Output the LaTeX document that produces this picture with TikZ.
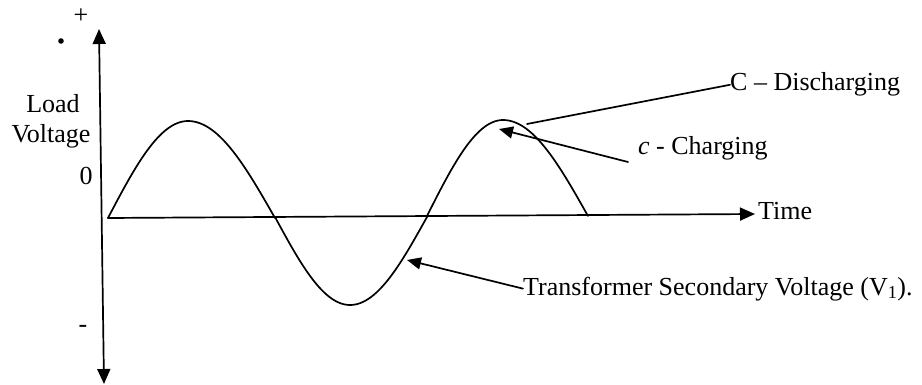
\documentclass[tikz,border=0pt]{standalone}
\usepackage{fontspec}
\setmainfont{Liberation Serif}
\usetikzlibrary{arrows.meta}
\begin{document}
\begin{tikzpicture}[x=1pt,y=-1pt,
  lbl/.style={inner sep=0pt,anchor=base west,font=\fontsize{26}{30}\selectfont},
  lblc/.style={inner sep=0pt,anchor=base,font=\fontsize{26}{30}\selectfont},
  ln/.style={line width=1.7pt,line cap=round,line join=round},
  axarrow/.style={-{Triangle[length=15pt,width=13pt]}},
  ptr/.style={-{Triangle[length=14pt,width=12pt]}}]
\useasboundingbox (0,0) rectangle (922,385);
% axes
\coordinate (ytop) at (99,29);
\coordinate (ybot) at (104,384);
\coordinate (xstart) at (108,218);
\coordinate (xend) at (755,214);
\draw[ln,{Triangle[length=15pt,width=13pt]}-{Triangle[length=15pt,width=13pt]}] (ybot) -- (ytop);
\draw[ln,axarrow] (xstart) -- (xend);
% labels on axes
\node[lblc] (plus) at (81,24) {+};
\fill (61,41) circle (2.8pt);
\node[lblc] (load) at (53,113) {Load};
\node[lblc] (volt) at (51,143) {Voltage};
\node[lblc] (zero) at (86,185) {0};
\node[lblc] (minus) at (83,332) {-};
\node[lbl] (time) at (758,220) {Time};
% waveform
\draw[ln]
  plot[domain=108:188,samples=30] ({\x},{218-97*sin(90*(\x-108)/80)})
  -- plot[domain=188:275,samples=30] ({\x},{218-97*cos(90*(\x-188)/87)})
  -- plot[domain=275:350,samples=30] ({\x},{217+88*sin(90*(\x-275)/75)})
  -- plot[domain=350:427,samples=30] ({\x},{217+88*cos(90*(\x-350)/77)})
  -- plot[domain=427:503,samples=30] ({\x},{216-96*sin(90*(\x-427)/76)})
  -- plot[domain=503:588,samples=30] ({\x},{216-96*cos(90*(\x-503)/85)});
% annotations
\node[lbl] (dis) at (730,91) {C – Discharging};
\node[lbl] (chg) at (638,155) {\textit{c} - Charging};
\node[lbl] (trf) at (523,295) {Transformer Secondary Voltage (V\textsubscript{1}).};
\coordinate (dpt) at (527,124);
\coordinate (cpt) at (499,129);
\coordinate (cend) at (628,162);
\coordinate (tpt) at (407,260);
\draw[ln] (dis.west) -- (dpt);
\draw[ln,ptr] (cend) -- (cpt);
\draw[ln,ptr] (trf.west) -- (tpt);
\end{tikzpicture}
\end{document}
